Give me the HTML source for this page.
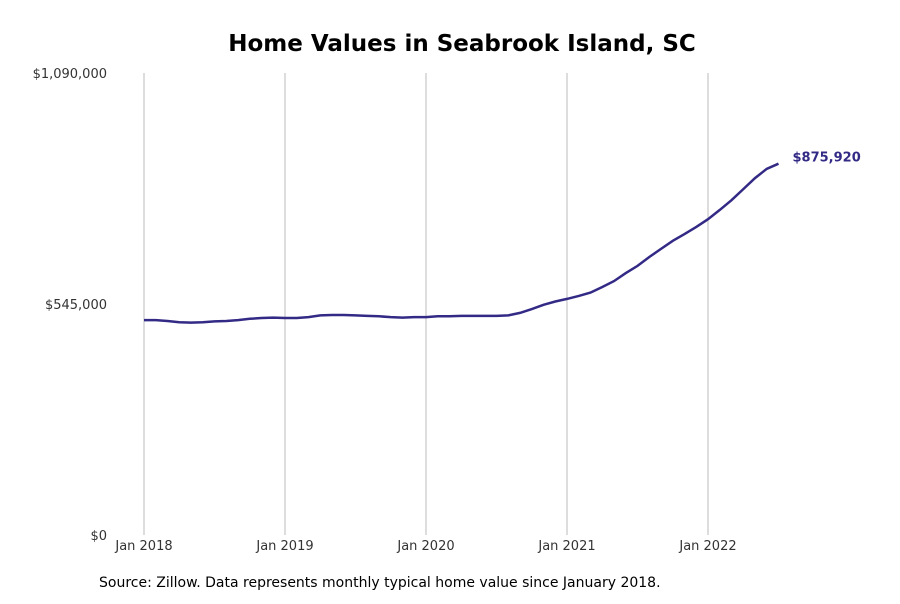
<!DOCTYPE html>
<html><head><meta charset="utf-8"><style>
body{margin:0;background:#fff;font-family:"DejaVu Sans","Liberation Sans",sans-serif;}
svg text{font-family:"DejaVu Sans","Liberation Sans",sans-serif;}
</style></head><body>
<svg id="chart" width="900" height="600">
<text x="462" y="51" text-anchor="middle" font-size="23" font-weight="bold" fill="#000">Home Values in Seabrook Island, SC</text>
<g id="grid"></g>
<g id="yticks"></g>
<g id="xticks"></g>
<path id="line" fill="none" stroke="#332a86" stroke-width="2.5"/>
<text id="endlabel" font-size="13" font-weight="bold" fill="#332a86"></text>
<text x="99" y="587" font-size="14" fill="#000">Source: Zillow. Data represents monthly typical home value since January 2018.</text>
</svg>
<script>
const values = [507,507,505,502,501,502,504,505,507,510,512,513,
512,512,514,518,519,519,518,517,516,514,513,514,
514,516,516,517,517,517,517,518,524,533,543,551,
557,564,572,585,599,618,635,656,675,694,710,727,
745,767,790,816,842,864,875.92];
const xTickLabels = ["Jan 2018","Jan 2019","Jan 2020","Jan 2021","Jan 2022"];
const yTickValues = [0,545,1090];
const yTickLabels = ["$0","$545,000","$1,090,000"];
const lastLabel = "$875,920";
const ns="http://www.w3.org/2000/svg";
const x = i => 144 + i*(564/48);
const y = v => 535 - v*(462/1090);
const grid=document.getElementById('grid'), xt=document.getElementById('xticks'), yt=document.getElementById('yticks');
xTickLabels.forEach((l,k)=>{
  const gx=x(k*12);
  const ln=document.createElementNS(ns,'line');
  ln.setAttribute('x1',gx);ln.setAttribute('x2',gx);ln.setAttribute('y1',73);ln.setAttribute('y2',535);
  ln.setAttribute('stroke','#bbb');ln.setAttribute('stroke-width','1');
  
  
  grid.appendChild(ln);
  const t=document.createElementNS(ns,'text');
  t.setAttribute('x',gx);t.setAttribute('y',550);t.setAttribute('text-anchor','middle');
  t.setAttribute('font-size','13');t.setAttribute('fill','#333');t.textContent=l;
  
  
  xt.appendChild(t);
});
yTickValues.forEach((v,k)=>{
  const t=document.createElementNS(ns,'text');
  t.setAttribute('x',107);t.setAttribute('y',y(v)+5);t.setAttribute('text-anchor','end');
  t.setAttribute('font-size','13');t.setAttribute('fill','#333');t.textContent=yTickLabels[k];
  
  
  yt.appendChild(t);
});
document.getElementById('line').setAttribute('d',values.map((v,i)=>(i?'L':'M')+x(i).toFixed(1)+','+y(v).toFixed(1)).join(''));
const n=values.length-1, el=document.getElementById('endlabel');
el.setAttribute('x',x(n)+14);el.setAttribute('y',y(values[n])-2);el.textContent=lastLabel;
</script>
</body></html>
